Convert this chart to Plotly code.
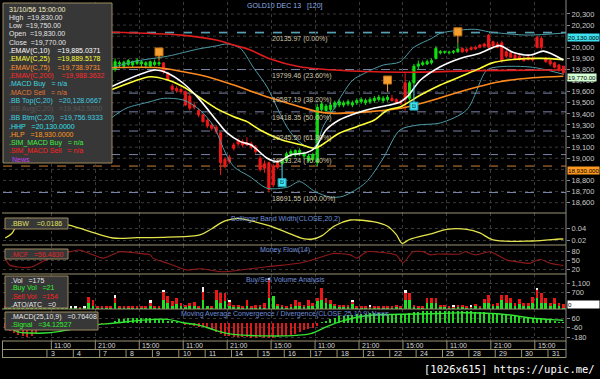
import plotly.graph_objects as go

W, H = 600, 379
def fx(p): return p / W
def fy(p): return 1 - p / H

# ---------------- DATA ----------------
day_labels = ["3","4","7","8","9","10","11","14","15","16","17","18","21","22","24","25","28","29","30","31"]
day_start_idx = [10,16,22,28,34,40,46,52,58,64,70,76,82,88,94,100,106,112,118,124]
time_tick_idx = [11,21,31,41,51,61,71,81,91,101,111,121]
time_tick_labels = ["11:00","21:00","15:00","11:00","21:00","15:00","11:00","21:00","15:00","11:00","21:00","15:00"]
price_ticks = [18600,18700,18800,19000,19100,19200,19300,19400,19500,19600,19700,19800,19900,20000,20200,20300]

opens = [19620,19640,19600,19570,19540,19560,19520,19490,19510,19540,
         19530,19550,19580,19600,19590,19570,19590,19610,19630,19620,
         19600,19620,19640,19650,19640,19800,19850,19830,19845,19840,
         19855,19850,19840,19830,19845,19850,19860,19770,19650,19630,
         19620,19600,19560,19480,19430,19390,19340,19300,19280,19230,
         18990,19010,19120,19160,19150,19140,19130,19100,19000,18950,
         18960,18930,18960,18950,18980,19040,19030,19050,19020,18980,
         18990,18960,19440,19430,19440,19460,19480,19480,19490,19480,
         19500,19510,19500,19510,19520,19530,19520,19530,19540,19530,
         19510,19680,19540,19680,19830,19845,19850,19860,19900,19950,
         19955,19950,19955,19960,19990,19980,19995,20000,20020,20030,
         20110,20050,20030,20040,19960,19950,19930,19920,19900,19910,
         19900,20090,20080,19900,19880,19860,19840,19830]
highs = [19660,19680,19630,19600,19580,19600,19550,19530,19560,19580,
         19570,19600,19620,19640,19620,19600,19630,19650,19660,19640,
         19630,19660,19680,19670,19870,19900,19880,19880,19895,19880,
         19900,19885,19875,19880,19890,19875,19865,19780,19670,19650,
         19640,19610,19580,19510,19450,19400,19360,19320,19300,19240,
         19010,19030,19140,19180,19170,19190,19150,19120,19020,18980,
         18970,18950,18990,18990,19060,19080,19080,19090,19060,19040,
         19050,19490,19510,19490,19500,19520,19530,19520,19530,19520,
         19540,19550,19540,19550,19560,19570,19560,19570,19570,19540,
         19530,19770,19700,19850,19880,19880,19890,19900,20010,19975,
         19970,19970,19975,20040,20000,19995,20010,20015,20030,20040,
         20120,20060,20050,20060,19980,19960,19950,19940,19920,19930,
         19920,20100,20100,19910,19890,19870,19850,19830]
lows = [19590,19610,19550,19520,19500,19530,19470,19460,19490,19510,
        19500,19530,19560,19570,19550,19540,19570,19590,19600,19580,
        19570,19600,19620,19620,19630,19780,19820,19810,19830,19820,
        19840,19820,19810,19815,19830,19830,19760,19700,19600,19590,
        19580,19470,19430,19440,19370,19320,19270,19250,19220,18850,
        18910,18950,19070,19110,19100,19110,19080,19040,18880,18870,
        18692,18740,18900,18940,18960,19010,19010,19020,18990,18960,
        18970,18930,19420,19400,19420,19440,19460,19460,19470,19460,
        19480,19490,19480,19490,19500,19510,19500,19510,19510,19490,
        19480,19430,19520,19660,19800,19830,19840,19845,19890,19935,
        19940,19935,19940,19950,19950,19950,19970,19975,19990,20000,
        19990,20000,19990,19860,19900,19900,19890,19880,19870,19880,
        19870,19990,19980,19860,19830,19810,19780,19750]
closes = [19640,19600,19570,19540,19560,19520,19490,19510,19540,19530,
          19550,19580,19600,19590,19570,19590,19610,19630,19620,19600,
          19620,19640,19650,19640,19850,19870,19860,19865,19880,19870,
          19885,19870,19860,19870,19865,19860,19780,19710,19620,19610,
          19600,19480,19450,19460,19390,19330,19290,19270,19240,18960,
          18930,18970,19090,19130,19120,19120,19100,19060,18900,18910,
          18720,18760,18920,18980,19040,19060,19070,19070,19040,19020,
          19030,19460,19490,19470,19480,19500,19510,19500,19510,19500,
          19520,19530,19520,19530,19540,19550,19540,19550,19520,19500,
          19495,19530,19680,19830,19850,19860,19870,19880,19990,19960,
          19960,19955,19965,19985,19960,19965,19980,19985,20000,20010,
          20000,20010,20000,19880,19920,19910,19900,19890,19880,19890,
          19885,20000,20000,19870,19850,19820,19800,19770]

ema10_x = [24,34,37,40.5,44,48,50.5,53.5,56,59.5,62,65,68.5,70.5,73,76,80,84,87.5,90,91.5,94.5,99,103.5,108,112.5,115.5,119.5,122.5,127]
ema10_y = [19642,19795,19766,19676,19540,19345,19228,19150,19120,19003,18970,19030,19050,19093,19255,19345,19408,19453,19480,19510,19555,19705,19825,19900,19946,20015,19955,19930,19965,19885]
ema25_x = [24,29,33,37,40.5,44,48,52,55,58,63,67.5,70.5,72,76,80,84,87,90,94.5,99,103.5,108,110.5,115.5,122,127]
ema25_y = [19615,19690,19735,19705,19645,19555,19450,19375,19330,19255,19165,19120,19090,19120,19225,19285,19345,19435,19465,19570,19660,19735,19810,19855,19890,19900,19889]
ema75_x = [24,35,40.5,46,52,59.5,67,71,75,83,90,96,103.5,112.5,120,127]
ema75_y = [19816,19816,19780,19735,19660,19555,19465,19420,19405,19420,19450,19510,19600,19690,19725,19739]
ema200_x = [24,40,48,52,55.5,60,67,75,90,108,127]
ema200_y = [20135,20110,20066,20020,19980,19900,19825,19795,19775,19790,19795]
bbtop_x = [24,29,37,44,48,50.5,53.5,56.4,59.6,61.8,64.1,66.4,68.7,70,71,72.3,74.6,76.9,79.1,82.3,86,89.8,93,97,99,103.5,107,110,113,119,127]
bbtop_y = [19810,19870,19920,19985,20012,20030,19991,19822,19642,19462,19282,19165,19102,19093,19138,19282,19435,19588,19705,19777,19840,19868,20000,20080,20126,20155,20162,20140,20126,20110,20128]
bbbtm_x = [24,27.5,33,36,40.5,44.3,47.5,49.8,52,55.7,59.6,64.3,67,70.5,74,77,82,86,89.8,94,99,105,109.6,112.6,120,127]
bbbtm_y = [19360,19450,19510,19540,19525,19435,19285,19075,18925,18834,18730,18740,18790,18700,18650,18660,18780,19000,19255,19300,19318,19435,19795,19825,19820,19757]

bbw_x = [0,1.5,3,5,9,14.5,19,24.5,30,37,44.3,47,50,53,56,60,64,67.8,70,72,75,78.5,80,83.7,87,89,90.3,92,97.3,100.5,105,108,111,120,126.2,127]
bbw_y = [0.0245,0.032,0.050,0.057,0.052,0.046,0.036,0.0245,0.025,0.026,0.0295,0.040,0.053,0.0573,0.053,0.045,0.034,0.0235,0.0228,0.028,0.045,0.0545,0.0545,0.0517,0.044,0.030,0.0157,0.022,0.0323,0.039,0.039,0.033,0.0212,0.0195,0.0228,0.0228]

mf_x = [0,1,3,6,9,12,14.8,16.8,19,22.3,26.1,30,33,33.6,37,39.8,41.4,44.3,49.6,54,59.6,67.1,71,74.6,78.5,80,82.3,86,89,90.5,92.8,95.1,96.7,98.3,103.5,104.6,107,110.3,114.2,116.5,119.4,121.7,124,126.2,127]
mf_y = [57,34,27,27,50,70,80,86,75,58,80,75,69,58,40,24,17,21,11,18,28,41,57,74,69,58,80,77,68,42,80,80,69,72,72,80,69,80,51,45,40,54,40,34,33]

buy_vol = [60,50,60,40,50,60,40,50,60,40,50,60,40,50,60,40,40,40,40,260,
           130,40,50,40,60,260,60,40,50,40,60,40,50,130,50,60,350,220,130,180,
           130,60,90,130,60,350,130,60,350,220,310,90,60,60,40,130,60,40,60,40,
           440,530,90,60,40,60,130,90,60,130,90,310,350,220,180,90,60,90,60,180,
           60,40,60,40,60,40,40,60,40,60,60,350,350,90,60,60,220,220,220,90,
           60,40,60,60,90,60,40,90,60,220,220,90,130,350,220,220,130,180,130,90,
           260,440,220,220,130,180,90,21]
sell_vol = [50,40,50,60,40,50,60,40,50,60,40,50,60,40,50,0,0,20,0,260,
            220,30,20,30,40,220,40,60,40,40,50,40,60,130,40,50,350,310,180,260,
            130,90,130,170,60,350,0,60,440,440,350,180,90,90,90,220,60,130,90,220,
            790,0,90,90,60,130,220,180,90,220,130,130,530,220,180,90,90,60,90,130,
            40,40,40,40,40,60,40,40,60,90,60,310,310,40,60,40,220,220,220,60,
            90,60,40,90,60,40,60,90,60,180,350,90,90,220,350,220,130,220,90,130,
            260,350,440,260,90,260,130,154]
ato_vol = [0,0,0,0,0,0,0,0,0,0,0,0,0,0,0,40,40,0,40,0,
           0,0,0,0,0,90,0,0,0,0,0,0,0,90,0,0,130,0,0,0,
           0,0,0,0,0,260,0,0,0,0,0,90,0,0,0,0,0,0,0,0,
           90,0,0,0,0,0,0,0,0,0,0,0,0,0,0,0,0,0,0,40,
           0,0,0,40,0,0,0,0,0,0,0,170,0,0,0,0,0,0,0,0,
           0,0,40,0,0,0,40,0,0,0,0,0,0,0,0,0,0,0,0,0,
           0,90,0,0,0,0,0,0]

macd_hist = [-60,-100,-130,-150,-170,-180,-165,-140,-80,-60,
             -40,-20,0,20,40,60,70,60,40,20,
             5,-8,-10,-8,-5,30,45,52,58,60,
             62,62,60,58,55,52,45,30,20,10,
             0,-15,-30,-40,-45,-50,-70,-90,-110,-140,
             -160,-170,-175,-180,-182,-185,-188,-188,-185,-186,
             -190,-188,-180,-170,-165,-155,-140,-120,-95,-80,
             -60,-35,10,30,50,70,85,95,102,108,
             112,118,120,122,124,124,122,120,118,115,
             112,118,128,138,145,150,152,155,158,158,
             157,156,155,155,152,150,148,146,145,140,
             132,125,118,110,102,95,85,78,70,65,
             58,52,48,42,35,25,12,1]
signal_x = [0,2.7,6,9,12,17,21,24.5,30,34,37,40.5,44.3,48.2,51.9,55.7,59.6,63,66,69.5,73.2,76.2,80,83.7,89.8,98.9,103.5,108,112.6,116.5,120,126.2,127]
signal_y = [-4,-111,-128,-128,-110,-60,-20,-4,30,47,47,4,-30,-100,-145,-160,-165,-165,-158,-135,-47,17,73,102,111,122,130,127,115,90,60,38,34]

fib_levels = [20135.97,19799.46,19587.19,19418.35,19245.50,19033.24,18691.55]
fib_pcts = ["0.00%","23.60%","38.20%","50.00%","61.80%","76.40%","100.00%"]
hhp, hlp, last_close = 20130.0, 18930.0, 19770.0

sell_sig_idx = [35, 87, 103]
sell_sig_price = [19958, 19705, 20140]
sell_sig_anchor = [19880, 19600, 20040]
buy_sig_idx = [63, 93]
buy_sig_price = [18780, 19470]
buy_sig_anchor = [18950, 19660]

# ---------------- FIGURE ----------------
n = len(closes)
idx = list(range(n))
x_range = [-0.5, 127.6]
XL, XR = 3, 566

GRID = "#3a3a3a"
SEP = "#9a9370"
TICKC = "#c8c8c8"
TITLEC = "#6f8fd8"
FONT = "Liberation Sans"

fig = go.Figure()

fig.add_trace(go.Candlestick(x=idx, open=opens, high=highs, low=lows, close=closes,
    increasing=dict(line=dict(color="#10e010", width=1), fillcolor="#10e010"),
    decreasing=dict(line=dict(color="#f01818", width=1), fillcolor="#f01818"),
    whiskerwidth=0, xaxis="x", yaxis="y", hoverinfo="skip"))
for xs, ys, col, w in [(bbtop_x, bbtop_y, "#4c9aa6", 1), (bbbtm_x, bbbtm_y, "#4c9aa6", 1),
                       (ema200_x, ema200_y, "#e01c1c", 1.6), (ema75_x, ema75_y, "#ff8a1c", 1.6),
                       (ema25_x, ema25_y, "#ffff33", 1.6), (ema10_x, ema10_y, "#ffffff", 1.6)]:
    fig.add_trace(go.Scatter(x=xs, y=ys, mode="lines", line=dict(color=col, width=w, shape="spline", smoothing=0.8),
                             xaxis="x", yaxis="y", hoverinfo="skip"))

fig.add_trace(go.Scatter(x=sell_sig_idx, y=sell_sig_price, mode="markers",
    marker=dict(symbol="square", size=8, color="#f5a030", line=dict(color="#c07010", width=1)),
    xaxis="x", yaxis="y", hoverinfo="skip"))
fig.add_trace(go.Scatter(x=buy_sig_idx, y=buy_sig_price, mode="markers+text", text=["B"]*len(buy_sig_idx),
    textfont=dict(size=6, color="#003040", family=FONT), textposition="middle center",
    marker=dict(symbol="square", size=8, color="#40e0f0", line=dict(color="#20a0b0", width=1)),
    xaxis="x", yaxis="y", hoverinfo="skip"))

fig.add_trace(go.Scatter(x=bbw_x, y=bbw_y, mode="lines", line=dict(color="#e4e44c", width=1.3, shape="spline"),
                         xaxis="x2", yaxis="y2", hoverinfo="skip"))
fig.add_trace(go.Scatter(x=mf_x, y=mf_y, mode="lines", line=dict(color="#901a1a", width=1.1, shape="spline", smoothing=0.6),
                         xaxis="x3", yaxis="y3", hoverinfo="skip"))
fig.add_trace(go.Bar(x=idx, y=buy_vol, marker=dict(color="#22e022", line=dict(width=0)), width=0.62,
                     xaxis="x4", yaxis="y4", hoverinfo="skip"))
fig.add_trace(go.Bar(x=idx, y=sell_vol, marker=dict(color="#e81818", line=dict(width=0)), width=0.62,
                     xaxis="x4", yaxis="y4", hoverinfo="skip"))
fig.add_trace(go.Bar(x=idx, y=ato_vol, marker=dict(color="#f4f4f4", line=dict(width=0)), width=0.62,
                     xaxis="x4", yaxis="y4", hoverinfo="skip"))
fig.add_trace(go.Bar(x=idx, y=macd_hist, marker=dict(color=["#22d822" if v >= 0 else "#d81a1a" for v in macd_hist],
                     line=dict(width=0)), width=0.25, xaxis="x5", yaxis="y5", hoverinfo="skip"))
fig.add_trace(go.Scatter(x=signal_x, y=signal_y, mode="lines", line=dict(color="#33e633", width=1.4, shape="spline"),
                         xaxis="x5", yaxis="y5", hoverinfo="skip"))

panels = [
    ("", 2, 213, [18507, 20408], price_ticks, [f"{v:,}" for v in price_ticks], False),
    ("2", 213, 245, [0.0128, 0.0662], [0.02, 0.04], ["0.02", "0.04"], True),
    ("3", 245, 274, [3.1, 103.1], [20, 50, 80], ["20", "50", "80"], True),
    ("4", 274, 309, [-22, 1507], [700, 1100], ["700", "1,100"], True),
    ("5", 309, 341, [-230, 179], [-180, -60, 60], ["-180", "-60", "60"], True),
]
layout = dict(width=W, height=H, margin=dict(l=0, r=0, t=0, b=0), autosize=False,
              paper_bgcolor="black", plot_bgcolor="black", showlegend=False,
              barmode="stack", bargap=0, boxgap=0.3, font=dict(family=FONT, color=TICKC, size=7))
for suf, top, bot, rng, tv, tt, grid in panels:
    layout["xaxis" + suf] = dict(domain=[fx(XL), fx(XR)], range=x_range, showticklabels=False,
                                 tickvals=[t - 0.5 for t in time_tick_idx], ticks="",
                                 showgrid=True, gridcolor=GRID, griddash="dot", gridwidth=1,
                                 zeroline=False, showline=False, anchor="y" + suf,
                                 rangeslider=dict(visible=False), fixedrange=True)
    if suf:
        layout["xaxis" + suf]["matches"] = "x"
    layout["yaxis" + suf] = dict(domain=[fy(bot), fy(top)], range=rng, side="right", anchor="x" + suf,
              showgrid=grid, gridcolor=GRID, griddash="dot", zeroline=False, showline=False,
              ticks="outside", ticklen=3, tickcolor="#8a8a8a", tickvals=tv, ticktext=tt,
              tickfont=dict(family=FONT, size=7.5, color=TICKC), fixedrange=True)
fig.update_layout(**layout)

shapes = []
ann = []

for lv in range(18600, 20400, 100):
    shapes.append(dict(type="line", xref="paper", yref="y", x0=fx(XL), x1=fx(XR), y0=lv, y1=lv,
                       line=dict(color=GRID, width=1, dash="dot"), layer="below"))
for lv in fib_levels:
    shapes.append(dict(type="line", xref="paper", yref="y", x0=fx(XL), x1=fx(XR), y0=lv, y1=lv,
                       line=dict(color="#7a86aa", width=1, dash="dash"), layer="below"))
shapes.append(dict(type="line", xref="paper", yref="y", x0=fx(XL), x1=fx(XR), y0=hhp, y1=hhp,
                   line=dict(color="#55c8d8", width=1, dash="dash"), layer="below"))
shapes.append(dict(type="line", xref="paper", yref="y", x0=fx(XL), x1=fx(XR), y0=hlp, y1=hlp,
                   line=dict(color="#d0803a", width=1, dash="dash"), layer="below"))
for lv, pc in zip(fib_levels, fib_pcts):
    ann.append(dict(xref="paper", yref="y", x=fx(270), y=lv, yanchor="top", xanchor="left",
                    text=f"{lv:.2f} ({pc})", showarrow=False, yshift=-0.5,
                    font=dict(family=FONT, size=7, color="#cfc6a8")))

for i, p, a in zip(sell_sig_idx, sell_sig_price, sell_sig_anchor):
    shapes.append(dict(type="line", xref="x", yref="y", x0=i, x1=i, y0=p, y1=a, line=dict(color="#f5a030", width=1)))
for i, p, a in zip(buy_sig_idx, buy_sig_price, buy_sig_anchor):
    shapes.append(dict(type="line", xref="x", yref="y", x0=i, x1=i, y0=p, y1=a, line=dict(color="#40e0f0", width=1)))

for yp in [213, 245, 274, 309, 341, 349.5, 357.5]:
    shapes.append(dict(type="line", xref="paper", yref="paper", x0=fx(2), x1=fx(XR), y0=fy(yp), y1=fy(yp),
                       line=dict(color=SEP, width=1)))
shapes.append(dict(type="line", xref="paper", yref="paper", x0=fx(XR), x1=fx(XR), y0=fy(0), y1=fy(357.5),
                   line=dict(color="#8a8a8a", width=1)))
shapes.append(dict(type="line", xref="paper", yref="paper", x0=fx(2.5), x1=fx(2.5), y0=fy(341), y1=fy(357.5),
                   line=dict(color=SEP, width=1)))
for t, lab in zip(time_tick_idx, time_tick_labels):
    shapes.append(dict(type="line", xref="x", yref="paper", x0=t - 0.5, x1=t - 0.5, y0=fy(341), y1=fy(349.5),
                       line=dict(color=SEP, width=1)))
    ann.append(dict(xref="x", yref="paper", x=t - 0.3, y=fy(345.3), xanchor="left", yanchor="middle",
                    text=lab, showarrow=False, font=dict(family=FONT, size=7, color="#d8d8d8")))
for d, lab in zip(day_start_idx, day_labels):
    shapes.append(dict(type="line", xref="x", yref="paper", x0=d - 0.5, x1=d - 0.5, y0=fy(349.5), y1=fy(357.5),
                       line=dict(color=SEP, width=1)))
    ann.append(dict(xref="x", yref="paper", x=d - 0.1, y=fy(353.5), xanchor="left", yanchor="middle",
                    text=lab, showarrow=False, font=dict(family=FONT, size=7, color="#d8d8d8")))

def box(x0, y0, x1, y1):
    shapes.append(dict(type="rect", xref="paper", yref="paper", x0=fx(x0), x1=fx(x1), y0=fy(y1), y1=fy(y0),
                       fillcolor="#373737", line=dict(color="#9b8b60", width=1), layer="above"))

def txt(x, y, s, col, size=7):
    ann.append(dict(xref="paper", yref="paper", x=fx(x), y=fy(y), xanchor="left", yanchor="middle",
                    text=s, showarrow=False, font=dict(family=FONT, size=size, color=col)))

NB = "\u00a0"
box(3, 3, 112, 163)
info_lines = [
    ("31/10/56 15:00:00", "#f2eec4"),
    ("High" + NB*2 + "=19,830.00", "#e6e6e6"),
    ("Low" + NB*2 + "=19,750.00", "#e6e6e6"),
    ("Open" + NB*2 + "=19,830.00", "#e6e6e6"),
    ("Close" + NB*2 + "=19,770.00", "#e6e6e6"),
    (".EMAV(C,10)" + NB*4 + "=19,885.0371", "#ffffff"),
    (".EMAV(C,25)" + NB*4 + "=19,889.5178", "#ffff40"),
    (".EMAV(C,75)" + NB*4 + "=19,738.9731", "#ff9030"),
    (".EMAV(C,200)" + NB*4 + "=19,988.3632", "#ff2a2a"),
    (".MACD Buy" + NB*3 + "= n/a", "#40d8e0"),
    (".MACD Sell" + NB*3 + "= n/a", "#e07838"),
    (".BB Top(C,20)" + NB*3 + "=20,128.0667", "#40d0e0"),
    (".BB Avg(C,20)" + NB*3 + "=19,942.5000", "#585858"),
    (".BB Btm(C,20)" + NB*3 + "=19,756.9333", "#40d0e0"),
    (".HHP" + NB*3 + "=20,130.0000", "#30e0f0"),
    (".HLP" + NB*3 + "=18,930.0000", "#ff9a20"),
    (".SIM_MACD Buy" + NB*3 + "= n/a", "#40f040"),
    (".SIM_MACD Sell" + NB*3 + "= n/a", "#ff2020"),
    ("News", "#c040f0"),
]
for k, (s, c) in enumerate(info_lines):
    txt(7 if s != "News" else 10, 9.2 + k * 8.35, s, c)

box(5, 218, 68, 229)
txt(9, 223.5, ".BBW" + NB*4 + "=0.0186", "#e0e060")
box(5, 249, 68, 259)
txt(9, 254, ".MCF" + NB*3 + "=56.4830", "#e02828")
box(5, 276, 68, 308)
for k, (s, c) in enumerate([(".Vol" + NB*3 + "=175", "#e8e8e8"), (".Buy Vol" + NB*3 + "=21", "#30f030"),
                            (".Sell Vol" + NB*3 + "=154", "#ff2020"), (".ATO/ATC" + NB*3 + "=0", "#e8e8e8")]):
    txt(9, 280 + k * 8, s, c)
box(5, 312, 98, 330)
txt(9, 316.5, ".MACD(25,10,9)" + NB*3 + "=0.76408", "#e8e8e8")
txt(9, 325.3, ".Signal" + NB*3 + "=34.12527", "#30f030")

def ctitle(y, s, col=TITLEC, size=7):
    ann.append(dict(xref="paper", yref="paper", x=fx(285), y=fy(y), xanchor="center", yanchor="middle",
                    text=s, showarrow=False, font=dict(family=FONT, size=size, color=col)))
ctitle(6, "GOLD10 DEC 13" + NB*3 + "[120]", "#8fb0e8")
ctitle(219, "Bollinger Band Width(CLOSE,20,2)")
ctitle(250, "Money Flow(14)")
ctitle(280, "Buy/Sell Volume Analysis")
ctitle(313.5, "Moving Average Convergence / Divergence(CLOSE,25,10,9) News")

def rlabel(yval, s, bg, w=31):
    ann.append(dict(xref="paper", yref="y", x=fx(XR + 1), y=yval, xanchor="left", yanchor="top",
                    text=s, showarrow=False, bgcolor=bg, borderpad=0, width=w, height=7, align="left",
                    font=dict(family=FONT, size=6.2, color="#000000")))
rlabel(hhp, "20,130.000", "#3ee0ee")
rlabel(last_close, "19,770.00", "#d4ffd4", 28)
rlabel(hlp, "18,930.000", "#ff9a20")
ann.append(dict(xref="paper", yref="paper", x=fx(XR + 1), y=fy(304), xanchor="left", yanchor="middle",
                text="0", showarrow=False, bgcolor="#ffffff", width=31, height=7, align="left", borderpad=0,
                font=dict(family=FONT, size=6.2, color="#000000")))

ann.append(dict(xref="paper", yref="paper", x=fx(597), y=fy(369), xanchor="right", yanchor="middle",
                text="[1026x615] https://upic.me/", showarrow=False,
                font=dict(family="DejaVu Sans Mono", size=10.5, color="#ffffff")))

fig.update_layout(shapes=shapes, annotations=ann)
fig.write_html("out.html")
